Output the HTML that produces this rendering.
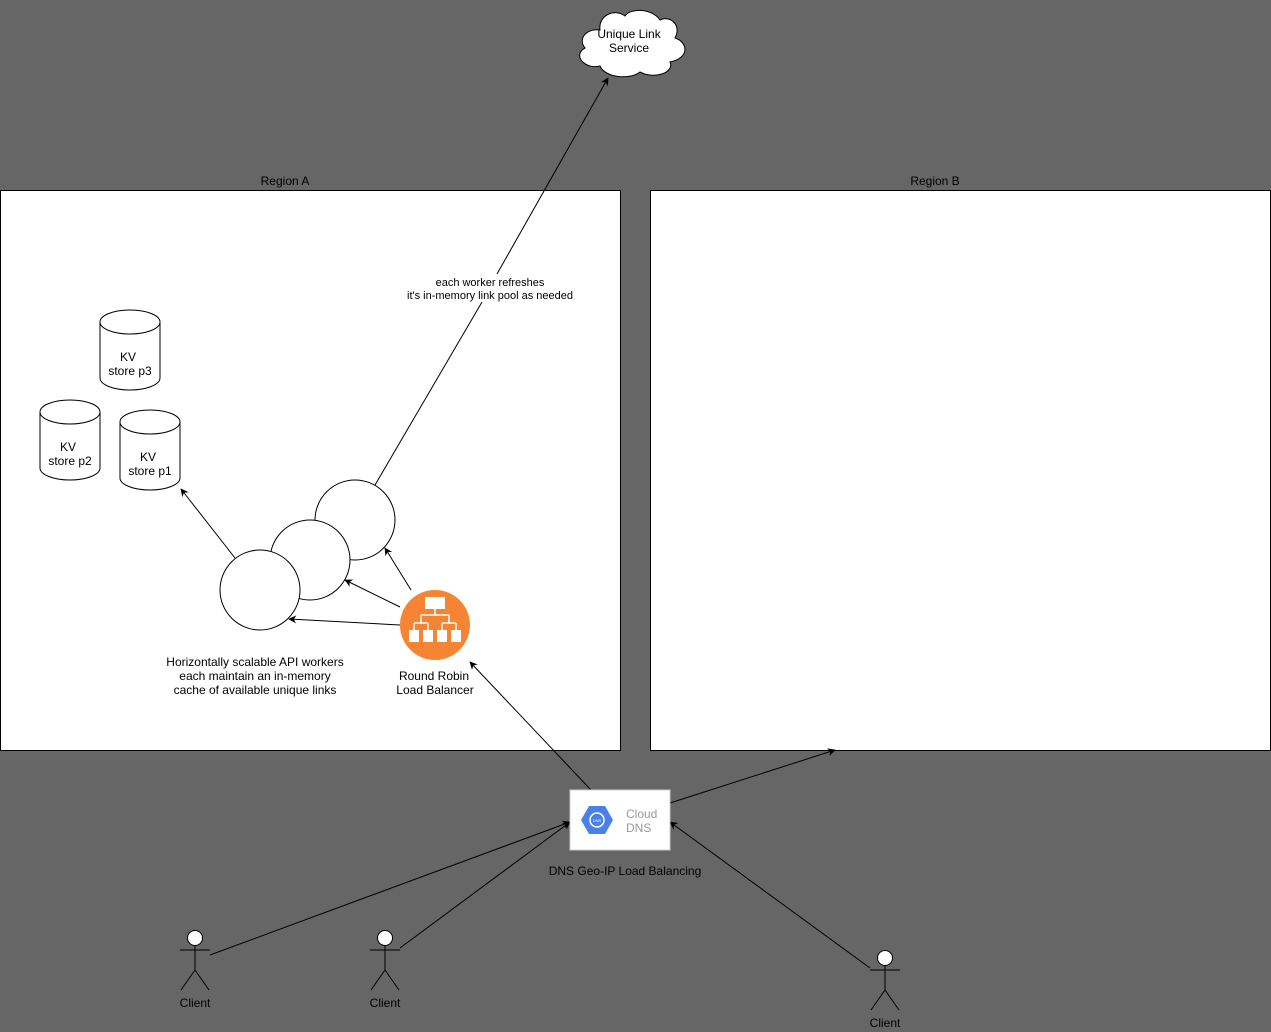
<!DOCTYPE html>
<html><head><style>
html,body{margin:0;padding:0;background:#666666;}
svg{display:block;font-family:"Liberation Sans",Helvetica,Arial,sans-serif;}
</style></head><body>
<svg width="1271" height="1032" viewBox="0 0 1271 1032" xmlns="http://www.w3.org/2000/svg">
<defs>
<marker id="a" viewBox="0 0 10 10" refX="9" refY="5" markerWidth="8" markerHeight="8" orient="auto" markerUnits="userSpaceOnUse">
<path d="M0,0 L10,5 L0,10 L3,5 z" fill="#000"/>
</marker>
</defs>
<rect width="1271" height="1032" fill="#666666"/>
<!-- regions -->
<rect x="0.5" y="190.5" width="620" height="560" fill="#fff" stroke="#000"/>
<rect x="650.5" y="190.5" width="620" height="560" fill="#fff" stroke="#000"/>
<text x="285" y="185" font-size="12" text-anchor="middle">Region A</text>
<text x="935" y="185" font-size="12" text-anchor="middle">Region B</text>

<!-- cloud -->
<path d="M600,30 C585,28 578,40 585,48 C572,55 585,70 600,66 C605,78 630,80 640,72 C655,80 675,72 670,62 C690,58 688,42 675,38 C682,25 670,15 660,20 C652,8 630,8 625,16 C615,8 598,15 600,30 z" fill="#fff" stroke="#000"/>
<text x="629" y="38" font-size="12" text-anchor="middle">Unique Link</text>
<text x="629" y="52" font-size="12" text-anchor="middle">Service</text>

<!-- cylinders -->
<g fill="#fff" stroke="#000">
<path d="M100,322 A30,12 0 0 1 160,322 L160,378 A30,12 0 0 1 100,378 Z"/><path d="M100,322 A30,12 0 0 0 160,322" fill="none"/>
<path d="M40,412 A30,12 0 0 1 100,412 L100,468 A30,12 0 0 1 40,468 Z"/><path d="M40,412 A30,12 0 0 0 100,412" fill="none"/>
<path d="M120,422 A30,12 0 0 1 180,422 L180,478 A30,12 0 0 1 120,478 Z"/><path d="M120,422 A30,12 0 0 0 180,422" fill="none"/>
</g>
<g font-size="12" text-anchor="middle">
<text x="128" y="361">KV</text><text x="130" y="375">store p3</text>
<text x="68" y="451">KV</text><text x="70" y="465">store p2</text>
<text x="148" y="461">KV</text><text x="150" y="475">store p1</text>
</g>

<!-- worker circles -->
<g fill="#fff" stroke="#000">
<circle cx="355" cy="520" r="40"/>
<circle cx="310" cy="560" r="40"/>
<circle cx="260" cy="590" r="40"/>
</g>

<!-- connectors -->
<g stroke="#000" stroke-width="1" fill="none" marker-end="url(#a)">
<line x1="235" y1="558" x2="181" y2="489"/>
<line x1="400" y1="625" x2="289" y2="619"/>
<line x1="400" y1="607" x2="345" y2="580"/>
<line x1="411" y1="590" x2="385" y2="548"/>
<line x1="591" y1="790" x2="470" y2="662"/>
<line x1="670" y1="803" x2="835" y2="750"/>
<line x1="210" y1="955" x2="570" y2="822"/>
<line x1="400" y1="948" x2="570" y2="822"/>
<line x1="870" y1="968" x2="670" y2="822"/>
</g>
<line x1="375" y1="485" x2="482" y2="302" stroke="#000"/>
<line x1="497" y1="274" x2="608" y2="78" stroke="#000" marker-end="url(#a)"/>
<text x="490" y="286" font-size="11" text-anchor="middle">each worker refreshes</text>
<text x="490" y="299" font-size="11" text-anchor="middle">it's in-memory link pool as needed</text>

<!-- load balancer -->
<circle cx="435" cy="625" r="35" fill="#f58534"/>
<g fill="#fff" stroke="#fff">
<rect x="425" y="597" width="20" height="12" stroke="none"/>
<path d="M435,609 V615 M421,615 H449 M421,615 V623 M449,615 V623 M414,623 H428 M442,623 H456 M414,623 V630 M428,623 V630 M442,623 V630 M456,623 V630" fill="none" stroke-width="1.5"/>
<rect x="409" y="630" width="10" height="12" stroke="none"/>
<rect x="423" y="630" width="10" height="12" stroke="none"/>
<rect x="437" y="630" width="10" height="12" stroke="none"/>
<rect x="451" y="630" width="10" height="12" stroke="none"/>
</g>
<text x="434" y="680" font-size="12" text-anchor="middle">Round Robin</text>
<text x="435" y="694" font-size="12" text-anchor="middle">Load Balancer</text>

<g font-size="12" text-anchor="middle">
<text x="255" y="666">Horizontally scalable API workers</text>
<text x="255" y="680">each maintain an in-memory</text>
<text x="255" y="694">cache of available unique links</text>
</g>

<!-- DNS -->
<rect x="570" y="790" width="100" height="60" fill="#fff" stroke="#ccc"/>
<polygon points="589,806 605,806 613,820 605,834 589,834 581,820" fill="#4a80e8"/>
<circle cx="597" cy="820" r="7" fill="none" stroke="#fff" stroke-width="1.5"/>
<text x="597" y="822" font-size="4" fill="#fff" text-anchor="middle">DNS</text>
<text x="626" y="818" font-size="12" fill="#999">Cloud</text>
<text x="626" y="832" font-size="12" fill="#999">DNS</text>
<text x="625" y="875" font-size="12" text-anchor="middle">DNS Geo-IP Load Balancing</text>

<!-- clients -->
<g stroke="#000" fill="#fff">
<circle cx="195" cy="938" r="7.5"/>
<path d="M195,945.5 V970 M180,950 H210 M195,970 L181,990 M195,970 L209,990" fill="none"/>
<circle cx="385" cy="938" r="7.5"/>
<path d="M385,945.5 V970 M370,950 H400 M385,970 L371,990 M385,970 L399,990" fill="none"/>
<circle cx="885" cy="958" r="7.5"/>
<path d="M885,965.5 V990 M870,970 H900 M885,990 L871,1010 M885,990 L899,1010" fill="none"/>
</g>
<g font-size="12" text-anchor="middle">
<text x="195" y="1007">Client</text>
<text x="385" y="1007">Client</text>
<text x="885" y="1027">Client</text>
</g>
</svg>
</body></html>
